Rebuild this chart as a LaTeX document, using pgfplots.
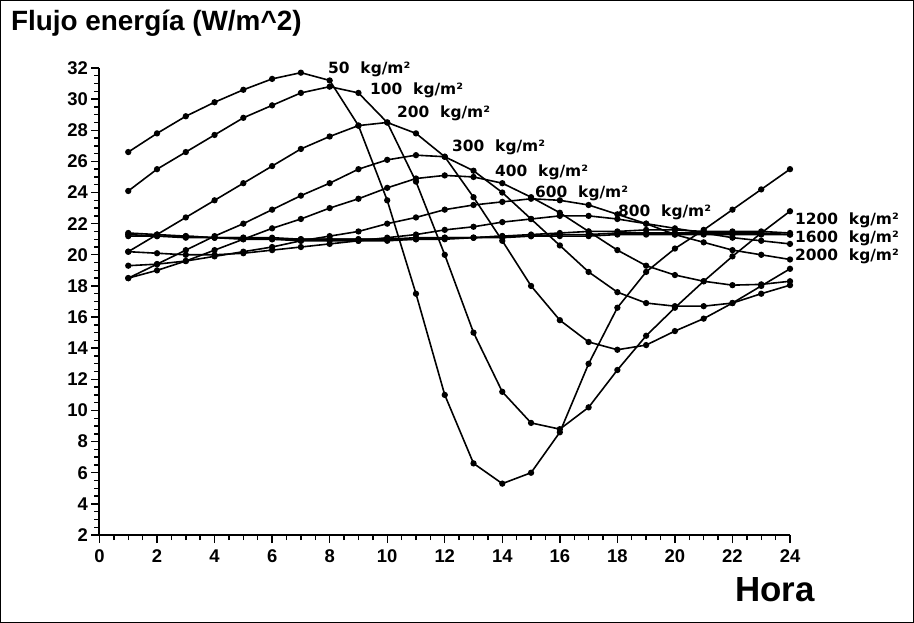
\documentclass[border=0pt]{standalone}
\usepackage{fontspec}
\setmainfont{Liberation Sans}
\newfontfamily\plotfont{DejaVu Sans}
\usepackage{pgfplots}
\usepackage{pgfplotstable}
\pgfplotsset{compat=1.18}
\pgfplotstableread{
h  s50  s100 s200 s300 s400 s600 s800 s1200 s1600 s2000
1  26.6 24.1 20.2 18.5 18.5 19.3 20.2 21.4 21.3 21.2
2  27.8 25.5 21.3 19.4 19.0 19.4 20.1 21.3 21.2 21.2
3  28.9 26.6 22.4 20.3 19.6 19.6 20.0 21.2 21.2 21.1
4  29.8 27.7 23.5 21.2 20.3 19.9 20.0 21.1 21.1 21.1
5  30.6 28.8 24.6 22.0 21.0 20.2 20.1 21.0 21.1 21.1
6  31.3 29.6 25.7 22.9 21.7 20.5 20.3 21.0 21.0 21.1
7  31.7 30.4 26.8 23.8 22.3 20.9 20.5 20.9 21.0 21.0
8  31.2 30.8 27.6 24.6 23.0 21.2 20.7 20.9 21.0 21.0
9  28.3 30.4 28.3 25.5 23.6 21.5 20.9 20.9 21.0 21.0
10 23.5 28.5 28.5 26.1 24.3 22.0 21.1 20.9 21.0 21.0
11 17.5 24.7 27.8 26.4 24.9 22.4 21.3 21.0 21.0 21.1
12 11.0 20.0 26.3 26.3 25.1 22.9 21.6 21.0 21.1 21.1
13 6.6  15.0 23.7 25.4 25.0 23.2 21.8 21.1 21.1 21.1
14 5.3  11.2 20.9 24.0 24.6 23.4 22.1 21.2 21.2 21.1
15 6.0  9.2  18.0 22.3 23.7 23.6 22.3 21.3 21.2 21.2
16 8.6  8.8  15.8 20.6 22.7 23.5 22.5 21.4 21.3 21.2
17 13.0 10.2 14.4 18.9 21.5 23.2 22.5 21.5 21.3 21.2
18 16.6 12.6 13.9 17.6 20.3 22.6 22.3 21.5 21.4 21.3
19 18.9 14.8 14.2 16.9 19.3 22.0 22.0 21.6 21.4 21.3
20 20.4 16.6 15.1 16.7 18.7 21.3 21.7 21.6 21.4 21.3
21 21.6 18.3 15.9 16.7 18.3 20.8 21.4 21.5 21.4 21.3
22 22.9 19.9 16.9 16.9 18.05 20.3 21.1 21.5 21.4 21.3
23 24.2 21.4 18.0 17.5 18.1 20.0 20.9 21.5 21.4 21.3
24 25.5 22.8 19.1 18.05 18.3 19.7 20.7 21.4 21.3 21.3
}\data
\begin{document}
\begin{tikzpicture}
\begin{axis}[
  scale only axis, width=690.5bp, height=467bp,
  xmin=0, xmax=24, ymin=2, ymax=32,
  axis lines*=left,
  axis line style={line width=2bp},
  xtick={0,2,...,24}, ytick={2,4,...,32},
  minor x tick num=3, minor y tick num=3,
  tick align=outside,
  major tick length=8bp, minor tick length=5bp,
  every tick/.style={black,line width=1.4bp},
  ticklabel style={font=\bfseries\fontsize{18.5}{18.5}\selectfont},
  xticklabel style={yshift=-3bp},
  /pgf/number format/assume math mode=true,
  clip=false,
  ser/.style={black,line width=1.6bp,mark=*,mark size=2.3bp,mark options={solid,fill=black}},
]
\addplot[ser] table[x=h,y=s50]{\data};
\addplot[ser] table[x=h,y=s100]{\data};
\addplot[ser] table[x=h,y=s200]{\data};
\addplot[ser] table[x=h,y=s300]{\data};
\addplot[ser] table[x=h,y=s400]{\data};
\addplot[ser] table[x=h,y=s600]{\data};
\addplot[ser] table[x=h,y=s800]{\data};
\addplot[ser] table[x=h,y=s1200]{\data};
\addplot[ser] table[x=h,y=s1600]{\data};
\addplot[ser] table[x=h,y=s2000]{\data};
\end{axis}
\draw[line width=1.5bp] (-98.75bp,-87.25bp) rectangle (813.75bp,534.25bp);
\node[anchor=west,font=\bfseries\fontsize{28}{28}\selectfont] at (-92bp,512bp) {Flujo energía (W/m\textasciicircum 2)};
\node[font=\bfseries\fontsize{35}{35}\selectfont] at (675.5bp,-55bp) {Hora};
\begin{scope}[every node/.style={anchor=west,font=\plotfont\bfseries\fontsize{15.5}{15.5}\selectfont,inner sep=0pt}]
\node at (228.5bp,466bp) {50\hspace{0.7em}kg/m²};
\node at (270.5bp,445bp) {100\hspace{0.7em}kg/m²};
\node at (297.5bp,422bp) {200\hspace{0.7em}kg/m²};
\node at (352.5bp,388bp) {300\hspace{0.7em}kg/m²};
\node at (395.5bp,363bp) {400\hspace{0.7em}kg/m²};
\node at (435.5bp,342bp) {600\hspace{0.7em}kg/m²};
\node at (518.5bp,323bp) {800\hspace{0.7em}kg/m²};
\node at (695.5bp,315bp) {1200\hspace{0.7em}kg/m²};
\node at (695.5bp,297bp) {1600\hspace{0.7em}kg/m²};
\node at (695.5bp,279bp) {2000\hspace{0.7em}kg/m²};
\end{scope}
\end{tikzpicture}
\end{document}
